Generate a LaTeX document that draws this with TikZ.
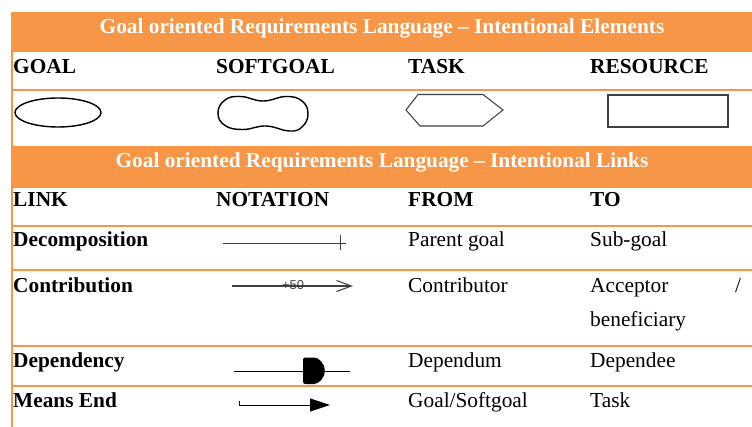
\documentclass[tikz,border=0pt]{standalone}
\usepackage{fontspec}
\setmainfont{Liberation Serif}
\setsansfont{Liberation Sans}
\usetikzlibrary{arrows.meta,shapes.geometric}
\definecolor{griorange}{HTML}{F79646}
\definecolor{notgray}{HTML}{404040}

\begin{document}
\begin{tikzpicture}[x=0.03cm,y=-0.03cm,
        band/.style={fill=griorange},
        rowline/.style={draw=griorange, line width=2.5pt},
        thinrow/.style={draw=griorange, line width=1.7pt},
        headtext/.style={anchor=base, inner sep=0pt, text=white, font=\fontsize{18.2}{22}\selectfont\bfseries},
        colhead/.style={anchor=base west, inner sep=0pt, font=\fontsize{18.2}{22}\selectfont\bfseries},
        cell/.style={anchor=base west, inner sep=0pt, font=\fontsize{18.2}{22}\selectfont},
        notline/.style={draw=notgray, line width=0.8pt}]
    \useasboundingbox (0,0) rectangle (752,427);

    % header bands
    \fill[band] (12,12) rectangle (752,52);
    \node[headtext] (elemhead) at (382,34) {Goal oriented Requirements Language -- Intentional Elements};
    \fill[band] (12,146) rectangle (752,188);
    \node[headtext] (linkhead) at (382,168) {Goal oriented Requirements Language -- Intentional Links};

    % table rules
    \draw[griorange, line width=1.7pt] (12,12) -- (12,427);
    \draw[rowline] (12,90) -- (752,90);
    \draw[thinrow] (12,226) -- (752,226);
    \draw[rowline] (12,270) -- (752,270);
    \draw[thinrow] (12,346) -- (752,346);
    \draw[rowline] (12,386) -- (752,386);

    % intentional elements
    \node[colhead] (goalh) at (13,74) {GOAL};
    \node[colhead] (softh) at (216,74) {SOFTGOAL};
    \node[colhead] (taskh) at (408,74) {TASK};
    \node[colhead] (resh) at (590,74) {RESOURCE};

    \node[draw, ellipse, line width=1.2pt, minimum width=2.58cm, minimum height=0.87cm, inner sep=0pt] (goal) at (58,112.5) {};
    \draw[line width=1.2pt] plot[smooth cycle, tension=0.75] coordinates {(218,113) (225,100) (241,96.5) (263,101) (286,96.5) (302,101) (308,114) (302,127) (289,131) (266,126) (243,129.5) (225,125.5)};
    \draw[notgray, line width=0.9pt] (406,110) -- (418,94.5) -- (483,94.5) -- (503,110) -- (483,126) -- (420,126) -- cycle;
    \node[draw=notgray, line width=1pt, minimum width=3.6cm, minimum height=0.96cm, inner sep=0pt] (resource) at (668,111) {};

    % intentional links
    \node[colhead] (linkh) at (13,207) {LINK};
    \node[colhead] (noth) at (216,207) {NOTATION};
    \node[colhead] (fromh) at (408,207) {FROM};
    \node[colhead] (toh) at (590,207) {TO};

    \node[colhead] (decomp) at (13,247) {Decomposition};
    \node[cell] (decfrom) at (408,247) {Parent goal};
    \node[cell] (decto) at (590,247) {Sub-goal};
    \coordinate (deca) at (223,243);
    \coordinate (decb) at (346,243);
    \draw[notline] (deca) -- (decb);
    \draw[notline] (340,235) -- (340,250);

    \node[colhead] (contrib) at (13,292) {Contribution};
    \node[cell] (confrom) at (408,292) {Contributor};
    \node[cell] (conto) at (590,292) {Acceptor};
    \node[cell] (conslash) at (735,292) {/};
    \node[cell] (conto2) at (590,327) {beneficiary};
    \coordinate (cona) at (232,286);
    \coordinate (conb) at (353,286);
    \draw[notline, line width=1pt, -{Straight Barb[length=12.8pt, width=9.4pt, line width=0.9pt]}] (cona) -- (conb);
    \node[inner sep=0.5pt, font=\sffamily\fontsize{11}{12}\selectfont, text=notgray] (conlabel) at (293,285) {+50};

    \node[colhead] (depend) at (13,367) {Dependency};
    \node[cell] (depfrom) at (408,367) {Dependum};
    \node[cell] (depto) at (590,367) {Dependee};
    \coordinate (depa) at (234,371);
    \coordinate (depb) at (350,371);
    \draw[black, line width=0.8pt] (depa) -- (depb);
    \fill[black, rounded corners=2pt] (303,357.5) -- (303,384) -- (311.5,384) arc[start angle=90, end angle=-90, radius=13.25] -- cycle;

    \node[colhead] (means) at (13,407) {Means End};
    \node[cell] (mefrom) at (408,407) {Goal/Softgoal};
    \node[cell] (meto) at (590,407) {Task};
    \coordinate (mea) at (239,400.5);
    \coordinate (meb) at (330,405);
    \draw[black, line width=0.8pt, -{Triangle[length=17pt, width=11pt]}] (mea) |- (meb);
\end{tikzpicture}
\end{document}
